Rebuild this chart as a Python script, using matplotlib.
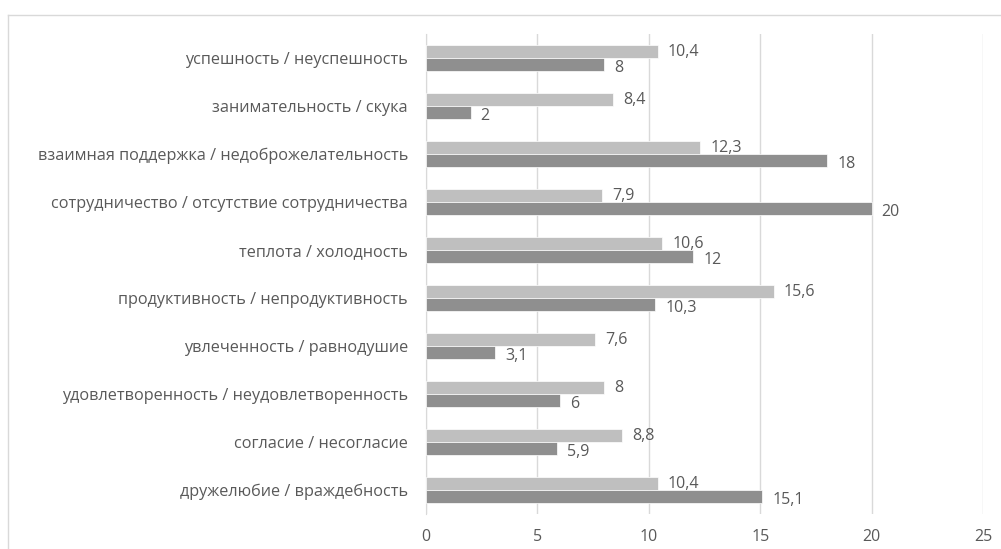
import matplotlib.pyplot as plt
from matplotlib.lines import Line2D

plt.rcParams['font.family'] = ['Open Sans', 'DejaVu Sans']

# категории сверху вниз
categories = [
    "успешность / неуспешность",
    "занимательность / скука",
    "взаимная поддержка / недоброжелательность",
    "сотрудничество / отсутствие сотрудничества",
    "теплота / холодность",
    "продуктивность / непродуктивность",
    "увлеченность / равнодушие",
    "удовлетворенность / неудовлетворенность",
    "согласие / несогласие",
    "дружелюбие / враждебность",
]
light_values = [10.4, 8.4, 12.3, 7.9, 10.6, 15.6, 7.6, 8, 8.8, 10.4]
dark_values = [8, 2, 18, 20, 12, 10.3, 3.1, 6, 5.9, 15.1]
x_ticks = [0, 5, 10, 15, 20, 25]

text_color = "#595959"
fig = plt.figure(figsize=(10.01, 5.49), dpi=100)
ax = fig.add_axes([426 / 1001, 1 - 514 / 549, (983 - 426) / 1001, 480 / 549])

n = len(categories)
pos = list(range(n))
h = 0.28
ax.barh([p - h / 2 for p in pos], light_values, height=h, color="#BFBFBF",
        edgecolor="white", linewidth=0.5, zorder=3)
ax.barh([p + h / 2 for p in pos], dark_values, height=h, color="#8F8F8F",
        edgecolor="white", linewidth=0.5, zorder=3)

def fmt(v):
    return ("%g" % v).replace(".", ",")

for p, lv, dv in zip(pos, light_values, dark_values):
    ax.text(lv + 0.45, p - h / 2 + 0.02, fmt(lv), va="center", ha="left",
            fontsize=11.5, color=text_color, zorder=4)
    ax.text(dv + 0.45, p + h / 2 + 0.06, fmt(dv), va="center", ha="left",
            fontsize=11.5, color=text_color, zorder=4)

ax.set_ylim(n - 0.5, -0.5)
ax.set_xlim(0, 25)
ax.set_yticks(pos)
ax.set_yticklabels(categories, fontsize=11.7, color=text_color)
ax.set_xticks(x_ticks)
ax.set_xticklabels([str(t) for t in x_ticks], fontsize=11.5, color=text_color)
ax.tick_params(length=0)
ax.tick_params(axis="x", pad=11)
ax.tick_params(axis="y", pad=13)
ax.grid(axis="x", color="#D9D9D9", linewidth=1, zorder=0)
for s in ["top", "right", "bottom"]:
    ax.spines[s].set_visible(False)
ax.spines["left"].set_color("#D9D9D9")

# рамка области диаграммы
fig.add_artist(Line2D([8 / 1001, 8 / 1001], [0, 1 - 15 / 549],
                      transform=fig.transFigure, color="#D9D9D9", lw=1))
fig.add_artist(Line2D([8 / 1001, 1], [1 - 15 / 549, 1 - 15 / 549],
                      transform=fig.transFigure, color="#D9D9D9", lw=1))

fig.savefig("out.png", dpi=100)
